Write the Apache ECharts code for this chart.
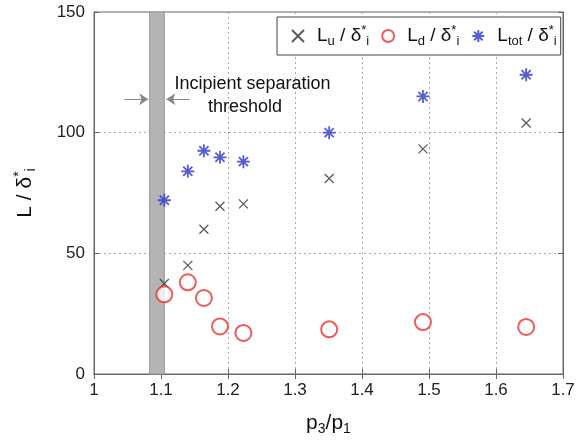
<!DOCTYPE html>
<html><head><meta charset="utf-8">
<script src="https://cdn.jsdelivr.net/npm/echarts@6/dist/echarts.min.js"></script>
<style>html,body{margin:0;padding:0;background:#fff}#c{width:578px;height:441px}</style>
</head><body><div id="c"></div>
<script>
// ---- data ----
const pressureRatio = [1.105, 1.14, 1.164, 1.188, 1.223, 1.351, 1.491, 1.645];
const Lu   = [37.5, 45, 60, 69.5, 70.5, 81, 93.3, 104];
const Ld   = [33, 38, 31.5, 19.7, 17, 18.5, 21.5, 19.5];
const Ltot = [72, 84, 92.5, 89.8, 88, 100, 115, 124];
const xTickValues = [1, 1.1, 1.2, 1.3, 1.4, 1.5, 1.6, 1.7];
const yTickValues = [0, 50, 100, 150];
const thresholdBand = [1.083, 1.105];
const arrowY = 113.8;
const leftArrow = [1.045, 1.081];
const rightArrow = [1.143, 1.108];

const FONT = 'Liberation Sans, Arial, sans-serif';
const chart = echarts.init(document.getElementById('c'), null, {renderer: 'canvas'});

const pairs = a => pressureRatio.map((x, i) => [x, a[i]]);
const crossPath = 'path://M0,0L10,10M10,0L0,10';
const starPath = 'path://M5,0L5,10M0,5L10,5M1.5,1.5L8.5,8.5M8.5,1.5L1.5,8.5';

function makeRich(base, small, shift) {
  return {
    f:   {fontSize: base, fontFamily: FONT, color: '#111', padding: [0, 0, 0, 8]},
    b:   {fontSize: base, fontFamily: FONT, color: '#111'},
    sub: {fontSize: small, fontFamily: FONT, color: '#111', padding: [shift, 0, 0, 0]},
    sup: {fontSize: small, fontFamily: FONT, color: '#111', padding: [0, 0, shift, 0]}
  };
}
const labelOf = {
  Lu:   '{f|L}{sub|u}{b| / δ}{sup|*}{sub|i}',
  Ld:   '{f|L}{sub|d}{b| / δ}{sup|*}{sub|i}',
  Ltot: '{f|L}{sub|tot}{b| / δ}{sup|*}{sub|i}'
};

const gridLine = {show: true, lineStyle: {color: '#aaa', type: [2, 3], width: 1}};
const fmtX = v => (Math.abs(v - 1) < 1e-9 ? '1' : v.toFixed(1));

chart.setOption({
  animation: false,
  backgroundColor: '#fff',
  grid: {left: 94, right: 15, top: 12, bottom: 64, show: true, borderColor: '#666', borderWidth: 1},
  legend: {
    left: 277, top: 17,
    padding: [7, 4, 7, 14],
    itemGap: 12,
    itemWidth: 12, itemHeight: 12,
    borderColor: '#444', borderWidth: 1, borderRadius: 0,
    backgroundColor: '#fff',
    data: ['Lu', 'Ld', 'Ltot'],
    formatter: n => labelOf[n],
    textStyle: {rich: makeRich(19, 13, 11), fontSize: 19}
  },
  xAxis: [{
    type: 'value', min: 1, max: 1.7, interval: 0.1,
    name: '{b|p}{sub|3}{b|/p}{sub|1}', nameLocation: 'middle', nameGap: 36,
    nameTextStyle: {rich: makeRich(21, 14, 12)},
    axisLine: {show: true, lineStyle: {color: '#666'}},
    axisTick: {show: true, inside: true, length: 5, lineStyle: {color: '#666'}},
    axisLabel: {formatter: fmtX, fontSize: 17, fontFamily: FONT, color: '#222', margin: 8},
    splitLine: gridLine
  }, {
    type: 'value', position: 'top', min: 1, max: 1.7, interval: 0.1,
    axisLine: {show: true, lineStyle: {color: '#666'}},
    axisTick: {show: true, inside: true, length: 5, lineStyle: {color: '#666'}},
    axisLabel: {show: false}, splitLine: {show: false}
  }],
  yAxis: [{
    type: 'value', min: 0, max: 150, interval: 50,
    name: '{b|L / δ}{sup|*}{sub|i}', nameLocation: 'middle', nameGap: 56, nameRotate: 90,
    nameTextStyle: {rich: makeRich(21, 14, 12)},
    axisLine: {show: true, lineStyle: {color: '#666'}},
    axisTick: {show: true, inside: true, length: 5, lineStyle: {color: '#666'}},
    axisLabel: {fontSize: 17, fontFamily: FONT, color: '#222', margin: 9},
    splitLine: gridLine
  }, {
    type: 'value', position: 'right', min: 0, max: 150, interval: 50,
    axisLine: {show: true, lineStyle: {color: '#666'}},
    axisTick: {show: true, inside: true, length: 5, lineStyle: {color: '#666'}},
    axisLabel: {show: false}, splitLine: {show: false}
  }],
  series: [
    {
      name: 'band', type: 'scatter', data: [], silent: true,
      markArea: {
        silent: true,
        itemStyle: {color: '#b4b4b4', borderColor: '#999', borderWidth: 1},
        data: [[{xAxis: thresholdBand[0]}, {xAxis: thresholdBand[1]}]]
      },
      markLine: {
        silent: true, symbol: ['none', 'arrow'], symbolSize: [9, 9],
        label: {show: false},
        lineStyle: {color: '#888', type: 'solid', width: 1},
        data: [
          [{coord: [leftArrow[0], arrowY]}, {coord: [leftArrow[1], arrowY], itemStyle: {color: '#111'}}],
          [{coord: [rightArrow[0], arrowY]}, {coord: [rightArrow[1], arrowY], itemStyle: {color: '#111'}}]
        ]
      }
    },
    {
      name: 'Lu', type: 'scatter', data: pairs(Lu), symbol: crossPath, symbolSize: 9,
      itemStyle: {color: 'rgba(0,0,0,0)', borderColor: '#333', borderWidth: 1.3}
    },
    {
      name: 'Ld', type: 'scatter', data: pairs(Ld), symbol: 'emptyCircle', symbolSize: 16,
      itemStyle: {color: '#f03030', borderColor: '#f03030', borderWidth: 1.5}
    },
    {
      name: 'Ltot', type: 'scatter', data: pairs(Ltot), symbol: starPath, symbolSize: 13,
      itemStyle: {color: 'rgba(0,0,0,0)', borderColor: '#2b35c8', borderWidth: 1.8}
    }
  ]
});

// annotation text anchored in data coordinates
const p1 = chart.convertToPixel({xAxisIndex: 0, yAxisIndex: 0}, [1.12, 120]);
const p2 = chart.convertToPixel({xAxisIndex: 0, yAxisIndex: 0}, [1.17, 110.5]);
chart.setOption({
  graphic: [
    {type: 'text', x: p1[0], y: p1[1], style: {text: 'Incipient separation', font: '18px ' + FONT, fill: '#111', textAlign: 'left', textVerticalAlign: 'middle'}},
    {type: 'text', x: p2[0], y: p2[1], style: {text: 'threshold', font: '18px ' + FONT, fill: '#111', textAlign: 'left', textVerticalAlign: 'middle'}}
  ]
});
</script>
</body></html>
